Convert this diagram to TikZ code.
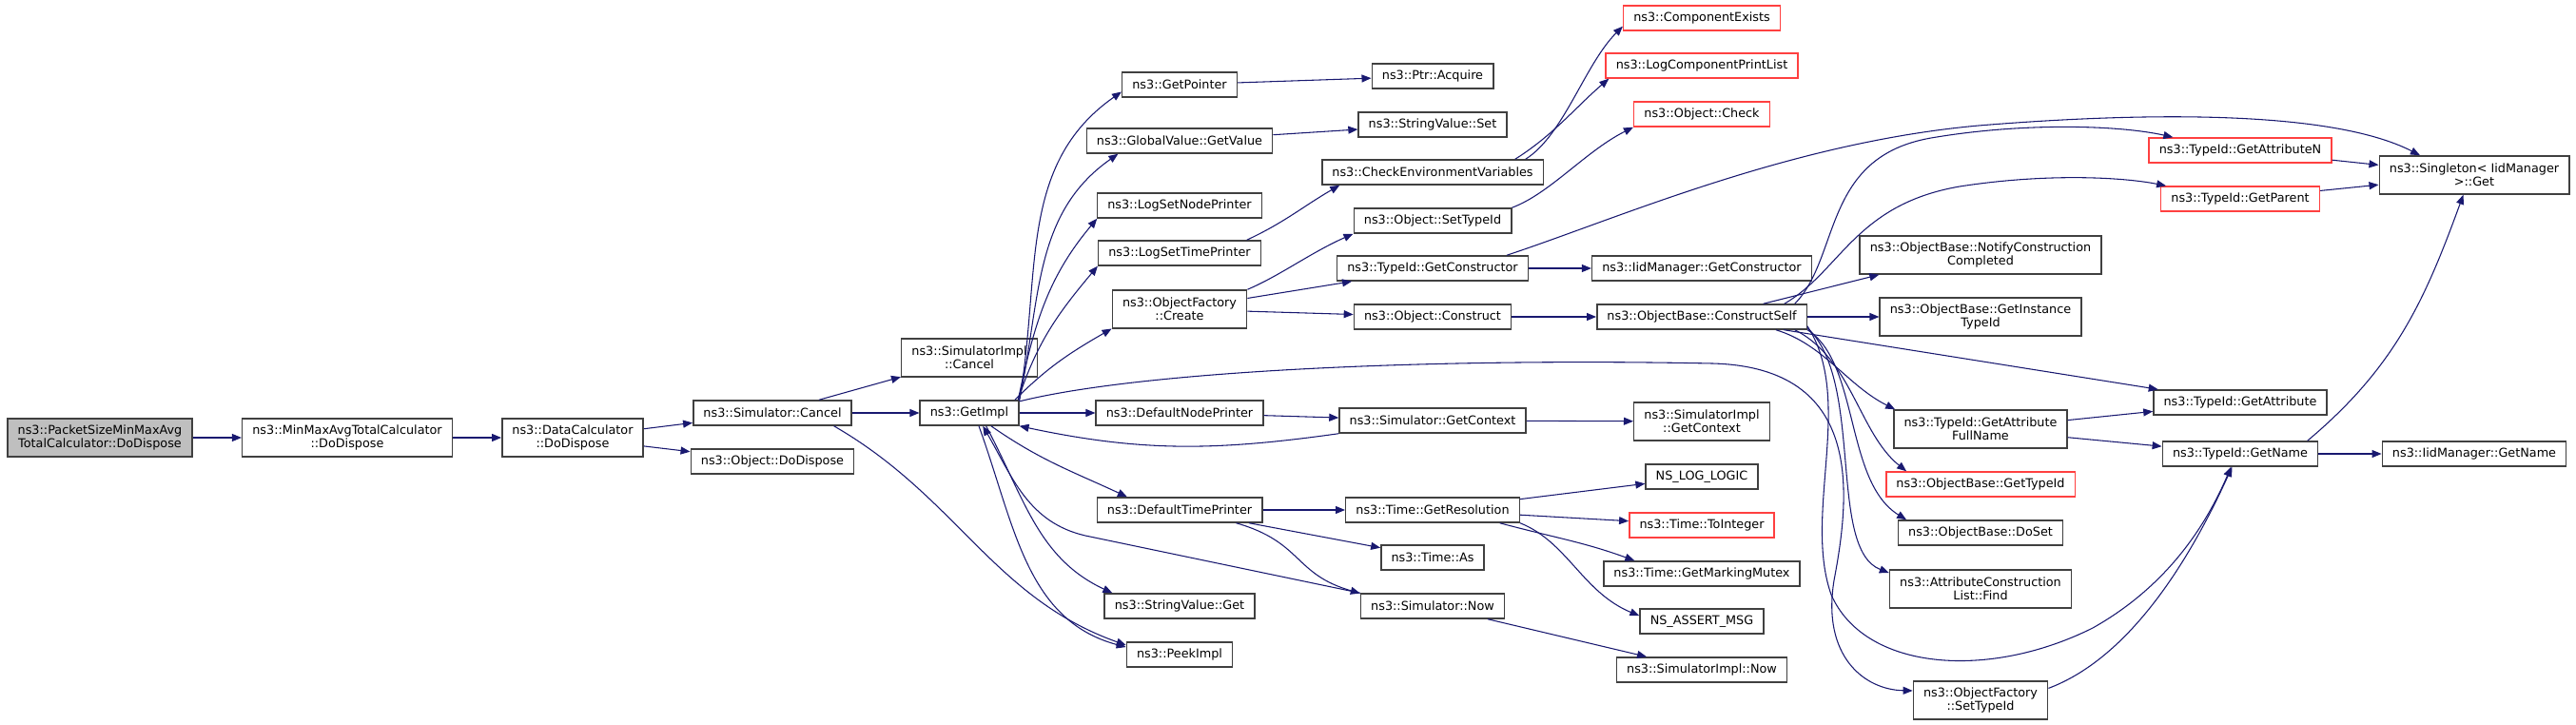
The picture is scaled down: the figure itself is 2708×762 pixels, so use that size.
\documentclass[tikz,border=0pt]{standalone}
\usepackage{fontspec}
\setmainfont{DejaVu Sans}
\usetikzlibrary{arrows.meta}
\definecolor{edgeblue}{RGB}{25,25,112}
\definecolor{rootgray}{RGB}{191,191,191}
\definecolor{boxline}{RGB}{64,64,64}
\definecolor{trunc}{RGB}{255,64,64}

\begin{document}
\begin{tikzpicture}[x=0.75pt, y=0.75pt,
    fn/.style={rectangle, draw=boxline, line width=1.1pt, fill=white, font=\fontsize{9.6}{10.8}\selectfont, inner xsep=8pt, inner ysep=0pt, minimum height=19.5pt, align=center},
    fn2/.style={fn, minimum height=30pt},
    rootfn/.style={fn2, fill=rootgray},
    cut/.style={draw=trunc},
    call/.style={-{Triangle[length=7.5pt,width=6pt]}, edgeblue, line width=0.8pt}
]
    \useasboundingbox (0,0) rectangle (2708,-762);

    % caller chain
    \node[rootfn] (root) at (105,-460) {ns3::PacketSizeMinMaxAvg\\TotalCalculator::DoDispose};
    \node[fn2] (mmdispose) at (365,-460) {ns3::MinMaxAvgTotalCalculator\\::DoDispose};
    \node[fn2] (dcdispose) at (602,-460) {ns3::DataCalculator\\::DoDispose};
    \node[fn] (simcancel) at (812,-434) {ns3::Simulator::Cancel};
    \node[fn] (objdispose) at (812,-485) {ns3::Object::DoDispose};
    \node[fn2] (implcancel) at (1019,-376) {ns3::SimulatorImpl\\::Cancel};
    \node[fn] (getimpl) at (1019,-434) {ns3::GetImpl};

    % column of GetImpl callees
    \node[fn] (getpointer) at (1240,-89) {ns3::GetPointer};
    \node[fn] (gvget) at (1240,-148) {ns3::GlobalValue::GetValue};
    \node[fn] (lognode) at (1240,-216) {ns3::LogSetNodePrinter};
    \node[fn] (logtime) at (1240,-266) {ns3::LogSetTimePrinter};
    \node[fn2] (ofcreate) at (1240,-325) {ns3::ObjectFactory\\::Create};
    \node[fn] (nodeprinter) at (1240,-434) {ns3::DefaultNodePrinter};
    \node[fn] (timeprinter) at (1240,-536) {ns3::DefaultTimePrinter};
    \node[fn] (svget) at (1240,-637) {ns3::StringValue::Get};
    \node[fn] (peekimpl) at (1240,-688) {ns3::PeekImpl};

    \node[fn] (acquire) at (1506,-80) {ns3::Ptr::Acquire};
    \node[fn] (svset) at (1506,-131) {ns3::StringValue::Set};
    \node[fn] (checkenv) at (1506,-181) {ns3::CheckEnvironmentVariables};
    \node[fn] (settypeid) at (1506,-232) {ns3::Object::SetTypeId};
    \node[fn] (getctor) at (1506,-282) {ns3::TypeId::GetConstructor};
    \node[fn] (construct) at (1506,-333) {ns3::Object::Construct};
    \node[fn] (getctx) at (1506,-442) {ns3::Simulator::GetContext};
    \node[fn] (getres) at (1506,-536) {ns3::Time::GetResolution};
    \node[fn] (timeas) at (1506,-586) {ns3::Time::As};
    \node[fn] (simnow) at (1506,-637) {ns3::Simulator::Now};

    \node[fn, cut] (compexists) at (1789,-19) {ns3::ComponentExists};
    \node[fn, cut] (logprint) at (1789,-69) {ns3::LogComponentPrintList};
    \node[fn, cut] (objcheck) at (1789,-120) {ns3::Object::Check};
    \node[fn] (iidctor) at (1789,-282) {ns3::IidManager::GetConstructor};
    \node[fn] (cself) at (1789,-333) {ns3::ObjectBase::ConstructSelf};
    \node[fn2] (implctx) at (1789,-443) {ns3::SimulatorImpl\\::GetContext};
    \node[fn] (nslog) at (1789,-501) {NS\_LOG\_LOGIC};
    \node[fn, cut] (toint) at (1789,-552) {ns3::Time::ToInteger};
    \node[fn] (mutex) at (1789,-603) {ns3::Time::GetMarkingMutex};
    \node[fn] (nsassert) at (1789,-653) {NS\_ASSERT\_MSG};
    \node[fn] (implnow) at (1789,-704) {ns3::SimulatorImpl::Now};

    \node[fn2] (notify) at (2082,-268) {ns3::ObjectBase::NotifyConstruction\\Completed};
    \node[fn2] (insttid) at (2082,-333) {ns3::ObjectBase::GetInstance\\TypeId};
    \node[fn2] (fullname) at (2082,-451) {ns3::TypeId::GetAttribute\\FullName};
    \node[fn, cut] (obtid) at (2082,-509) {ns3::ObjectBase::GetTypeId};
    \node[fn] (doset) at (2082,-560) {ns3::ObjectBase::DoSet};
    \node[fn2] (acfind) at (2082,-619) {ns3::AttributeConstruction\\List::Find};
    \node[fn2] (ofsettid) at (2082,-736) {ns3::ObjectFactory\\::SetTypeId};

    \node[fn, cut] (attrn) at (2355,-158) {ns3::TypeId::GetAttributeN};
    \node[fn, cut] (parent) at (2355,-209) {ns3::TypeId::GetParent};
    \node[fn] (getattr) at (2355,-423) {ns3::TypeId::GetAttribute};
    \node[fn] (getname) at (2355,-477) {ns3::TypeId::GetName};
    \node[fn2] (singleton) at (2601,-184) {ns3::Singleton< IidManager\\ >::Get};
    \node[fn] (iidname) at (2601,-477) {ns3::IidManager::GetName};

    % left chain
    \draw[call] (root) -- (mmdispose);
    \draw[call] (mmdispose) -- (dcdispose);
    \draw[call] (dcdispose) -- (simcancel);
    \draw[call] (dcdispose) -- (objdispose);
    \draw[call] (simcancel) -- (implcancel);
    \draw[call] (simcancel) -- (getimpl);
    \draw[call] (simcancel.-12) .. controls +(130,-75) and +(-140,50) .. (peekimpl.170);

    % GetImpl fan upwards
    \draw[call] (getimpl.14) to[out=80,in=-145] (getpointer.-173);
    \draw[call] (getimpl.14.5) to[out=78,in=-145] (gvget.-168);
    \draw[call] (getimpl.15) to[out=78,in=-130] (lognode.-171);
    \draw[call] (getimpl.15.5) to[out=72,in=-130] (logtime.-171);
    \draw[call] (getimpl.16) to[out=45,in=-150] (ofcreate.-164);
    \draw[call] (getimpl.13) .. controls (1200,-390) and (1500,-376) .. (1800,-382)
        .. controls (1960,-386) and (1945,-520) .. (1928,-610)
        .. controls (1915,-690) and (1960,-725) .. (ofsettid.172);

    % GetImpl fan downwards
    \draw[call] (getimpl) -- (nodeprinter);
    \draw[call] (getimpl.-31) to[out=-35,in=155] (timeprinter.166);
    \draw[call] (getimpl.-38) to[out=-62,in=155] (svget.169);
    \draw[call] (getimpl.-54) to[out=-70,in=165] (peekimpl.172);
    \draw[call] (simnow.north west) -- (1141,-563) to[out=167,in=-60] (getimpl.-44);

    \draw[call] (nodeprinter) -- (getctx);
    \draw[call] (getctx.south west) to[out=-172,in=-12] (getimpl.south east);
    \draw[call] (getctx) -- (implctx);

    % time printer
    \draw[call] (timeprinter) -- (getres);
    \draw[call] (timeprinter) -- (timeas);
    \draw[call] (timeprinter.-13) .. controls +(70,-20) and +(-70,20) .. (simnow.170);
    \draw[call] (simnow) -- (implnow);
    \draw[call] (getres) -- (nslog);
    \draw[call] (getres) -- (toint);
    \draw[call] (getres.-11) to[out=-15,in=160] (mutex.169);
    \draw[call] (getres.south east) .. controls +(50,-20) and +(-60,25) .. (nsassert.175);

    % object factory
    \draw[call] (getpointer) -- (acquire);
    \draw[call] (gvget) -- (svset);
    \draw[call] (logtime.11) to[out=25,in=-150] (checkenv.-172);
    \draw[call] (checkenv.8) .. controls +(40,25) and +(-40,-40) .. (compexists.-174);
    \draw[call] (checkenv.9) .. controls +(40,25) and +(-35,-30) .. (logprint.-172);
    \draw[call] (settypeid.north east) .. controls +(40,15) and +(-50,-25) .. (objcheck.south west);
    \draw[call] (ofcreate.north east) .. controls +(35,15) and +(-45,-20) .. (settypeid.south west);
    \draw[call] (ofcreate) -- (getctor);
    \draw[call] (ofcreate) -- (construct);
    \draw[call] (getctor) -- (iidctor);
    \draw[call] (getctor.10) .. controls (1700,-230) and (1880,-150) .. (2080,-132)
        .. controls (2250,-118) and (2450,-115) .. (singleton.160);
    \draw[call] (construct) -- (cself);

    % ConstructSelf fan
    \draw[call] (cself.12) -- (notify.-169);
    \draw[call] (cself) -- (insttid);
    \draw[call] (cself.8) .. controls (1935,-270) and (1915,-165) .. (2030,-145)
        .. controls (2130,-128) and (2230,-132) .. (attrn.169);
    \draw[call] (cself.9) .. controls (1935,-285) and (1950,-215) .. (2060,-196)
        .. controls (2150,-182) and (2230,-186) .. (parent.170);
    \draw[call] (cself) -- (getattr);
    \draw[call] (cself.-10) .. controls +(50,-15) and +(-50,25) .. (fullname.167);
    \draw[call] (cself.-8) .. controls +(60,-30) and +(-50,40) .. (obtid.170);
    \draw[call] (cself.-7) .. controls +(55,-35) and +(-65,40) .. (doset.170);
    \draw[call] (cself.-6) .. controls +(60,-55) and +(-65,25) .. (acfind.170);
    \draw[call] (cself.-5) .. controls (1950,-420) and (1895,-540) .. (1925,-625)
        .. controls (1960,-705) and (2090,-715) .. (2200,-660)
        .. controls (2280,-615) and (2320,-550) .. (getname.-125);

    % TypeId calls
    \draw[call] (attrn) -- (singleton);
    \draw[call] (parent) -- (singleton);
    \draw[call] (fullname) -- (getattr);
    \draw[call] (fullname) -- (getname);
    \draw[call] (getname) -- (iidname);
    \draw[call] (getname.11) to[out=40,in=-110] (singleton.-119);
    \draw[call] (ofsettid.10) .. controls +(80,30) and +(-50,-110) .. (getname.-122);
\end{tikzpicture}
\end{document}
